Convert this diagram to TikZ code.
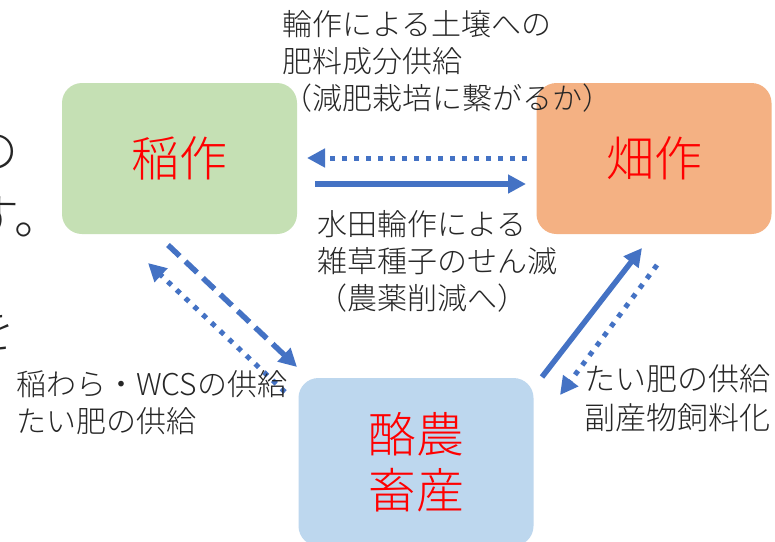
\documentclass[tikz,border=0pt]{standalone}
\usepackage{fontspec}
\setmainfont{Noto Sans CJK JP Light}
\usetikzlibrary{arrows.meta}
\definecolor{ricegreen}{HTML}{C5E0B4}
\definecolor{fieldorange}{HTML}{F4B183}
\definecolor{dairyblue}{HTML}{BDD7EE}
\definecolor{arrowblue}{HTML}{4472C4}
\definecolor{textgray}{HTML}{262626}
\tikzset{
  box/.style={rounded corners=20pt, minimum width=235pt, text=red,
    font=\fontsize{48}{56}\selectfont, align=center, inner sep=0pt},
  lbl/.style={anchor=north west, align=left, inner sep=0pt, text=textgray,
    font=\fontsize{30}{37}\selectfont},
  bigtext/.style={inner sep=0pt, text=textgray, font=\fontsize{48}{63}\selectfont},
  tipA/.style={-{Triangle[length=18pt,width=18pt]}},
  solidarrow/.style={draw=arrowblue, line width=5.5pt, tipA},
  dottedarrow/.style={draw=arrowblue, line width=5pt, dash pattern=on 5pt off 7pt, tipA},
  dashedarrow/.style={draw=arrowblue, line width=5.5pt, dash pattern=on 16pt off 8pt, tipA}
}
\begin{document}
\begin{tikzpicture}[x=1pt,y=-1pt]
\useasboundingbox (0,0) rectangle (775,541);
\clip (0,0) rectangle (775,541);
\fill[white] (0,0) rectangle (775,541);

% clipped fragments of slide text at the left edge
\node[bigtext, anchor=east] (fragA) at (19,152) {の};
\node[bigtext, anchor=west] (fragB) at (-29,217) {す。};
\node[bigtext, anchor=east] (fragC) at (16,330) {を};

% boxes
\node[box, fill=ricegreen, minimum height=151pt] (rice) at (179.5,158.5) {稲作};
\node[box, fill=fieldorange, minimum height=151pt] (field) at (654,158.5) {畑作};
\node[box, fill=dairyblue, minimum height=168pt] (dairy) at (416,462) {酪農\\畜産};

% arrow end points
\coordinate (d1s) at (527,158);
\coordinate (d1e) at (307,158);
\coordinate (s1s) at (315,184);
\coordinate (s1e) at (526,184);
\coordinate (dh1s) at (168,245);
\coordinate (dh1e) at (297,367);
\coordinate (d2s) at (285,392);
\coordinate (d2e) at (148,263);
\coordinate (s2s) at (542,377);
\coordinate (s2e) at (642,248);
\coordinate (d3s) at (657,265);
\coordinate (d3e) at (560,395);

\draw[dottedarrow] (d1s) -- (d1e);
\draw[solidarrow] (s1s) -- (s1e);
\draw[dashedarrow] (dh1s) -- (dh1e);
\draw[dottedarrow] (d2s) -- (d2e);
\draw[solidarrow] (s2s) -- (s2e);
\draw[dottedarrow] (d3s) -- (d3e);

% labels
\node[lbl] (lblA) at (282,10.5) {輪作による土壌への\\肥料成分供給\\（減肥栽培に繋がるか）};
\node[lbl] (lblB) at (317,210.5) {水田輪作による\\雑草種子のせん滅\\（農薬削減へ）};
\node[lbl] (lblC) at (16,370.5) {稲わら・WCSの供給\\たい肥の供給};
\node[lbl, font=\fontsize{31}{39}\selectfont] (lblD) at (584,364.5) {たい肥の供給\\副産物飼料化};
\end{tikzpicture}
\end{document}
